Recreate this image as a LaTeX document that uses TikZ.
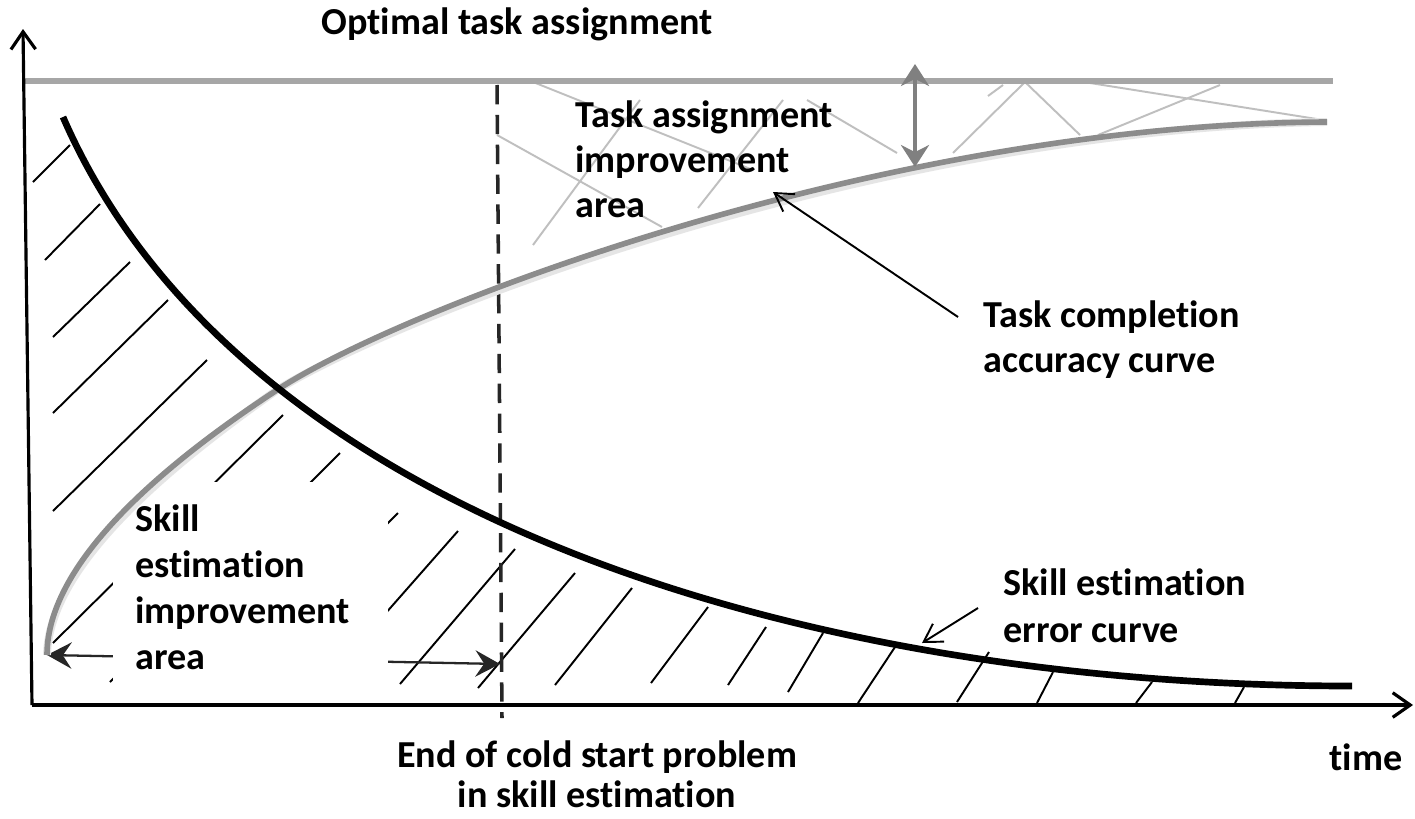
\documentclass[tikz,border=0pt]{standalone}
\usepackage{fontspec}
\setmainfont{Carlito}[Ligatures={NoCommon,NoContextual},RawFeature={-calt}]
\usetikzlibrary{arrows.meta}
\definecolor{optline}{HTML}{A6A6A6}
\definecolor{acccurve}{HTML}{8C8C8C}
\definecolor{lighthatch}{HTML}{BFBFBF}
\definecolor{gaparrow}{HTML}{808080}
\definecolor{coldline}{HTML}{262626}

\begin{document}
\begin{tikzpicture}[x=0.02cm,y=-0.02cm,
  lbl/.style={font=\fontsize{21.7}{25.5}\selectfont\bfseries, inner sep=0pt},
  axisline/.style={line width=1.8pt, -{Straight Barb[length=10pt,width=14pt]}},
  hatchdark/.style={line width=1.1pt, black},
  hatchlight/.style={line width=1.1pt, lighthatch},
  optimal/.style={line width=3.2pt, optline},
  coldstart/.style={line width=2pt, coldline, dash pattern=on 11pt off 6pt},
  errcurve/.style={line width=3.8pt, black},
  acc/.style={line width=3.2pt, acccurve},
  accshadow/.style={line width=4.5pt, black!10},
  gap/.style={line width=1.8pt, gaparrow,
    {Stealth[length=12.5pt,width=16pt,inset=4pt]}-{Stealth[length=12.5pt,width=16pt,inset=4pt]}},
  spanarrow/.style={line width=1.3pt, black!85,
    {Stealth[length=14pt,width=15pt,inset=5pt]}-{Stealth[length=14pt,width=15pt,inset=5pt]}},
  callout/.style={line width=1.1pt, -{Straight Barb[length=10pt,width=12pt]}}
]
\useasboundingbox (0,0) rectangle (1415,818);
\fill[white] (0,0) rectangle (1415,818);

% reference points
\coordinate (origin) at (32,705);
\coordinate (ytip) at (23,29);
\coordinate (xtip) at (1413,705);
\coordinate (optleft) at (22,81);
\coordinate (optright) at (1333,81);
\coordinate (coldtop) at (497,85);
\coordinate (coldbottom) at (502,718);
\coordinate (accstart) at (47,655);
\coordinate (accmid) at (277,390);
\coordinate (accend) at (1327,122);
\coordinate (errstart) at (63,117);
\coordinate (errend) at (1352,686);
\coordinate (coldpt) at (500,664);
\coordinate (gaptop) at (915,64);
\coordinate (gapbottom) at (915,167);
\coordinate (accpt) at (773,192);
\coordinate (errpt) at (922,643);

% hatching of the task assignment improvement area
\foreach \xa/\ya/\xb/\yb in {533/82/753/170, 497/135/662/227, 533/245/640/100,
    698/208/783/100, 807/100/897/153, 988/96/1003/85, 953/153/1025/82,
    1025/82/1080/135, 1098/135/1220/85, 1090/83/1323/120}
  \draw[hatchlight] (\xa,\ya) -- (\xb,\yb);

% hatching under the skill estimation error curve
\foreach \xa/\ya/\xb/\yb in {33/182/70/145, 45/260/100/204, 53/337/130/262,
    53/413/168/300, 53/511/207/360, 53/643/283/415, 110/682/340/453,
    370/541/398/513, 370/631/458/531, 400/684/515/549, 478/688/575/573,
    555/685/632/588, 651/683/708/607, 728/685/766/627, 788/692/823/633,
    858/703/895/647, 957/702/989/652, 1037/703/1053/672, 1136/703/1152/682,
    1235/703/1244/687}
  \draw[hatchdark] (\xa,\ya) -- (\xb,\yb);

% span of the skill estimation improvement area
\draw[spanarrow] (accstart) -- (coldpt);

\node[lbl, font=\fontsize{21.7}{26.3}\selectfont\bfseries, fill=white,
      anchor=north west, minimum width=5.5cm, minimum height=4.2cm,
      text width=4.62cm, inner xsep=0.44cm, inner ysep=0pt, align=left]
  (skillarea) at (113,482) {Skill\\estimation\\improvement\\area};

% optimal level and end of the cold start phase
\draw[optimal] (optleft) -- (optright);
\draw[coldstart] (coldtop) -- (coldbottom);

% axes
\draw[axisline] (origin) -- (ytip);
\draw[axisline] (origin) -- (xtip);

% task completion accuracy curve (with a soft shadow)
\draw[accshadow, shift={(2,4)}] (accstart) .. controls (47,560) and (170,460) .. (accmid)
  .. controls (400,309) and (880,124) .. (accend);
\draw[acc] (accstart) .. controls (47,560) and (170,460) .. (accmid)
  .. controls (400,309) and (880,124) .. (accend);

% skill estimation error curve
\draw[errcurve] (errstart) .. controls (233,508) and (789,686) .. (errend);

% gap between optimal and achieved accuracy
\draw[gap] (gaptop) -- (gapbottom);

% labels (base anchors sit on the last line)
\node[lbl, anchor=base] (optlabel) at (517,34) {Optimal task assignment};
\node[lbl, anchor=base west, align=left] (tailabel) at (575,217)
  {Task assignment\\improvement\\area};
\node[lbl, anchor=base west, align=left] (acclabel) at (983,372)
  {Task completion\\accuracy curve};
\node[lbl, font=\fontsize{21.7}{26.6}\selectfont\bfseries, anchor=base west, align=left]
  (errlabel) at (1003,642) {Skill estimation\\error curve};
\node[lbl, font=\fontsize{21.7}{22.7}\selectfont\bfseries, anchor=base, align=center]
  (coldlabel) at (597,807) {End of cold start problem\\in skill estimation};
\node[lbl, anchor=base] (timelabel) at (1366,770) {time};

% callouts
\draw[callout] ([shift={(-25,-55)}]acclabel.base west) -- (accpt);
\draw[callout] ([shift={(-25,-34)}]errlabel.base west) -- (errpt);
\end{tikzpicture}
\end{document}
